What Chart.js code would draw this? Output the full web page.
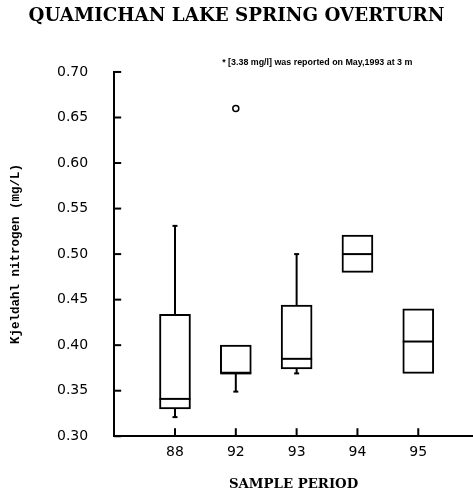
<!DOCTYPE html>
<html>
<head>
<meta charset="utf-8">
<script src="https://cdn.jsdelivr.net/npm/chart.js@4.4.1/dist/chart.umd.min.js"></script>
<style>
  body { margin: 0; background: #fff; }
  canvas { display: block; }
</style>
</head>
<body>
<canvas id="overturnChart" width="473" height="495"></canvas>
<script>
// sample periods and box statistics (Kjeldahl N, mg/L)
const periods = ['88', '92', '93', '94', '95'];
const lowWhisker = [0.321, 0.349, 0.369, 0.480, 0.369];
const lowerQuartile = [0.330, 0.369, 0.374, 0.480, 0.369];
const medians = [0.341, 0.369, 0.385, 0.500, 0.404];
const upperQuartile = [0.434, 0.400, 0.444, 0.521, 0.440];
const highWhisker = [0.531, 0.400, 0.500, 0.521, 0.440];
const outliers = [[], [0.66], [], [], []];
const footnote = '* [3.38 mg/l] was reported on May,1993 at 3 m';

const boxData = periods.map((p, i) => ({ x: i + 1, y: [lowerQuartile[i], upperQuartile[i]] }));
const outlierData = [];
outliers.forEach((vals, i) => vals.forEach(v => outlierData.push({ x: i + 1, y: v })));

// whiskers, medians, inward tick marks and the footnote
const boxExtras = {
  id: 'boxExtras',
  afterDatasetsDraw(chart) {
    const { ctx, chartArea, scales: { x, y } } = chart;
    const bars = chart.getDatasetMeta(0).data;
    ctx.save();
    ctx.strokeStyle = '#000';
    ctx.lineWidth = 2;
    ctx.lineCap = 'butt';
    const line = (x1, y1, x2, y2) => {
      ctx.beginPath(); ctx.moveTo(x1, y1); ctx.lineTo(x2, y2); ctx.stroke();
    };
    periods.forEach((p, i) => {
      const cx = x.getPixelForValue(i + 1);
      const half = bars[i].width / 2;
      // median
      const ym = y.getPixelForValue(medians[i]);
      line(cx - half, ym, cx + half, ym);
      // whiskers with small caps
      if (highWhisker[i] > upperQuartile[i]) {
        const yt = y.getPixelForValue(highWhisker[i]);
        line(cx, y.getPixelForValue(upperQuartile[i]), cx, yt);
        line(cx - 2.5, yt, cx + 2.5, yt);
      }
      if (lowWhisker[i] < lowerQuartile[i]) {
        const yb = y.getPixelForValue(lowWhisker[i]);
        line(cx, y.getPixelForValue(lowerQuartile[i]), cx, yb);
        line(cx - 2.5, yb, cx + 2.5, yb);
      }
    });
    // tick marks pointing into the plot
    y.ticks.forEach(t => {
      const py = y.getPixelForValue(t.value);
      line(chartArea.left, py, chartArea.left + 7, py);
    });
    x.ticks.forEach(t => {
      const px = x.getPixelForValue(t.value);
      line(px, chartArea.bottom, px, chartArea.bottom - 8);
    });
    ctx.fillStyle = '#000';
    ctx.font = 'bold 8.9px "Liberation Sans"';
    ctx.textBaseline = 'middle';
    ctx.fillText(footnote, chartArea.left + 108, chartArea.top - 9);
    ctx.restore();
  }
};

const ctx = document.getElementById('overturnChart').getContext('2d');
new Chart(ctx, {
  type: 'bar',
  data: {
    datasets: [{
      data: boxData,
      backgroundColor: '#fff',
      borderColor: '#000',
      borderWidth: 2,
      borderSkipped: false,
      barThickness: 31
    }, {
      type: 'scatter',
      data: outlierData,
      pointStyle: 'circle',
      pointRadius: 3,
      backgroundColor: '#fff',
      borderColor: '#000',
      borderWidth: 1.5
    }]
  },
  options: {
    responsive: false,
    animation: false,
    layout: { autoPadding: false, padding: { left: 0, right: 0, top: 0, bottom: 2 } },
    plugins: {
      legend: { display: false },
      tooltip: { enabled: false },
      title: {
        display: true,
        text: 'QUAMICHAN LAKE SPRING OVERTURN',
        color: '#000',
        font: { family: '"DejaVu Serif"', size: 18.3, weight: 'bold' },
        padding: { top: 5, bottom: 45 }
      }
    },
    scales: {
      x: {
        type: 'linear',
        offset: false,
        min: 0,
        max: 5.9,
        afterBuildTicks: scale => { scale.ticks = periods.map((p, i) => ({ value: i + 1 })); },
        grid: { display: false, drawTicks: false },
        border: { display: true, color: '#000', width: 2 },
        ticks: {
          color: '#000',
          padding: 8,
          font: { family: '"DejaVu Sans"', size: 14 },
          callback: v => periods[v - 1]
        },
        title: {
          display: true,
          text: 'SAMPLE PERIOD',
          color: '#000',
          font: { family: '"DejaVu Serif"', size: 13.3, weight: 'bold' },
          padding: { top: 8, bottom: 0 }
        }
      },
      y: {
        min: 0.30,
        max: 0.70,
        grid: { display: false, drawTicks: false },
        border: { display: true, color: '#000', width: 2 },
        ticks: {
          stepSize: 0.05,
          color: '#000',
          padding: 26,
          font: { family: '"DejaVu Sans"', size: 14 },
          callback: v => v.toFixed(2)
        },
        title: {
          display: true,
          text: 'Kjeldahl nitrogen (mg/L)',
          color: '#000',
          font: { family: '"Liberation Mono"', size: 12.5, weight: 'bold' },
          padding: { top: 8, bottom: 8 }
        }
      }
    }
  },
  plugins: [boxExtras]
});
</script>
</body>
</html>
